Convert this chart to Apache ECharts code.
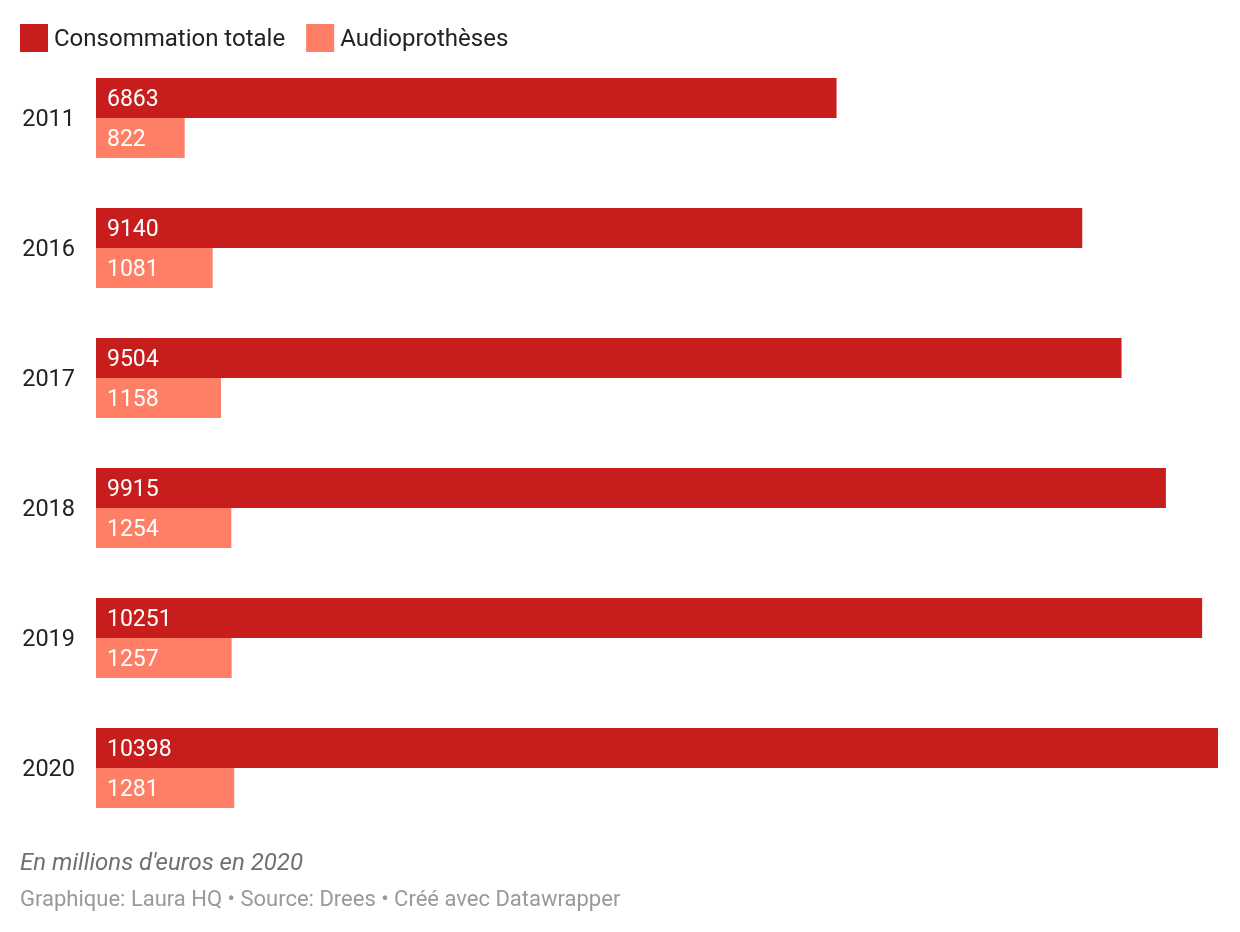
<!DOCTYPE html>
<html><head><meta charset="utf-8">
<script src="https://cdn.jsdelivr.net/npm/echarts@6/dist/echarts.min.js"></script>
<style>html,body{margin:0;padding:0;background:#fff}#c{width:1240px;height:932px}</style>
</head><body><div id="c"></div>
<script>
const categories = ['2011','2016','2017','2018','2019','2020'];
const totale = [6863, 9140, 9504, 9915, 10251, 10398];
const audio = [822, 1081, 1158, 1254, 1257, 1281];
const seriesNames = ['Consommation totale', 'Audioprothèses'];
const note = "En millions d'euros en 2020";
const credit = 'Graphique: Laura HQ • Source: Drees • Créé avec Datawrapper';

const chart = echarts.init(document.getElementById('c'), null, {renderer:'canvas'});
const lbl = {show:true, position:'insideLeft', distance:11, offset:[0,2], color:'#fff', fontFamily:'Roboto', fontSize:23};
chart.setOption({
  animation:false,
  textStyle:{fontFamily:'Roboto'},
  legend:{
    left:20, top:24, padding:0, itemWidth:28, itemHeight:28, itemGap:21,
    icon:'rect',
    formatter: n => '{t|' + n + '}',
    textStyle:{fontFamily:'Roboto', fontSize:24, color:'#222',
      rich:{t:{fontFamily:'Roboto', fontSize:24, color:'#222', padding:[4,0,0,1]}}},
    data: seriesNames
  },
  graphic:[
    {type:'text', left:20, top:852, style:{text:note, fontFamily:'Roboto', fontStyle:'italic', fontSize:24, fill:'#707070'}},
    {type:'text', left:20, top:889, style:{text:credit, fontFamily:'Roboto', fontSize:22, fill:'#999'}}
  ],
  grid:{left:96, right:22, top:53, bottom:99},
  xAxis:{type:'value', min:0, max:10398, show:false},
  yAxis:{type:'category', data:categories, inverse:true,
    axisLine:{show:false}, axisTick:{show:false}, splitLine:{show:false},
    axisLabel:{fontFamily:'Roboto', fontSize:23.5, color:'#222', margin:21,
      formatter: v => '{y|' + v + '}',
      rich:{y:{fontFamily:'Roboto', fontSize:23.5, color:'#222', padding:[4,0,0,0]}}}},
  series:[
    {name:seriesNames[0], type:'bar', data:totale, barWidth:40, barGap:'0%', barCategoryGap:'38.46%',
     itemStyle:{color:'#c71e1d'}, label:lbl},
    {name:seriesNames[1], type:'bar', data:audio, barWidth:40,
     itemStyle:{color:'#ff7f66'}, label:lbl}
  ]
});
</script></body></html>
